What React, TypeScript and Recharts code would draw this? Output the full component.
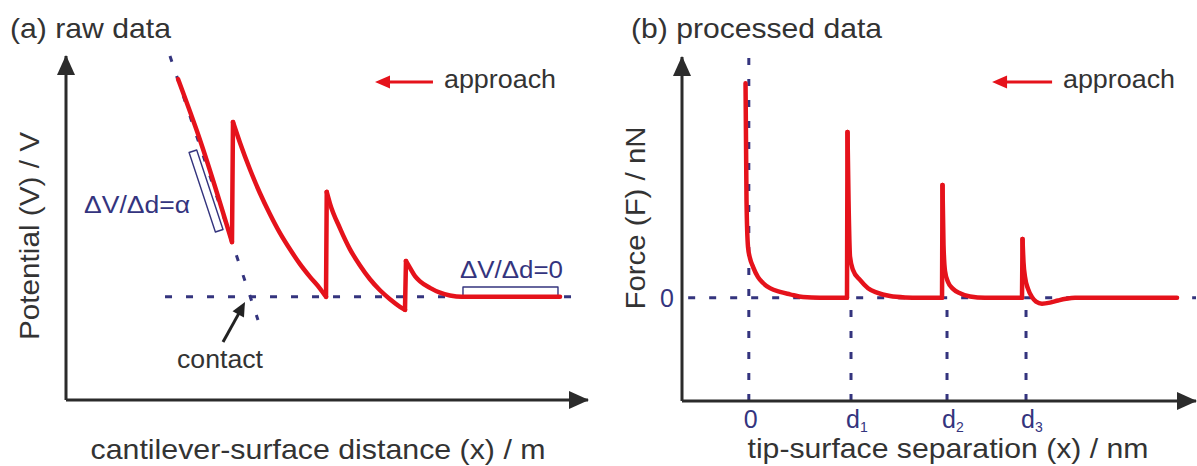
import React from 'react';
import { LineChart, Line, XAxis, YAxis, ReferenceDot } from 'recharts';

const RED = '#e5121b';
const NAVY = '#34347e';
const DARK = '#2b2b2b';
const TXT = '#333333';
const FONT = '"Liberation Sans", Arial, Helvetica, sans-serif';

type P = { x: number; y: number };
const pts = (a: number[][]): P[] => a.map(([x, y]) => ({ x, y }));

// ---------- panel (a): raw data (cantilever-surface distance vs potential) ----------
const rawSlant = pts([[2.146, 9.33], [2.567, 7.56], [3.18, 4.59]]);
const rawJump1 = pts([[3.18, 4.59], [3.199, 8.08]]);
const rawDecay1 = pts([[3.199, 8.08], [3.333, 7.48], [3.525, 6.7], [3.716, 6.01], [3.908, 5.4], [4.1, 4.85], [4.291, 4.38], [4.483, 3.95], [4.674, 3.58], [4.866, 3.24], [4.981, 3.0]]);
const rawJump2 = pts([[4.981, 3.0], [4.995, 6.05]]);
const rawDecay2 = pts([[4.995, 6.05], [5.057, 5.71], [5.249, 4.99], [5.441, 4.38], [5.632, 3.91], [5.824, 3.51], [6.015, 3.19], [6.207, 2.93], [6.398, 2.71], [6.494, 2.62]]);
const rawJump3 = pts([[6.494, 2.62], [6.513, 4.04]]);
const rawDecay3 = pts([[6.513, 4.04], [6.59, 3.84], [6.686, 3.6], [6.782, 3.45], [6.973, 3.26], [7.165, 3.12], [7.356, 3.04], [7.586, 3.0], [9.464, 3.0]]);
const rawBaseline = pts([[1.897, 3.0], [9.75, 3.0]]);
const rawContactLine = pts([[1.992, 10.0], [3.678, 2.326]]);
const rawSlopeBox = pts([[2.358, 7.195], [2.504, 7.267], [3.008, 4.956], [2.862, 4.884], [2.358, 7.195]]);
const rawFlatBox = pts([[7.605, 3.0], [7.605, 3.285], [9.425, 3.285], [9.425, 3.0]]);
const rawApproach = pts([[6.11, 9.244], [7.03, 9.244]]);
const rawApproachTip = { x: 5.92, y: 9.244 };
const contactShaft = pts([[3.008, 1.686], [3.32, 2.54]]);
const contactTip = { x: 3.429, y: 2.849 };

// ---------- panel (b): processed data (tip-surface separation vs force) ----------
const sepTicks = [0, 1.988, 3.856, 5.393];
const sepTickLabels: [string, string][] = [['0', ''], ['d', '1'], ['d', '2'], ['d', '3']];
const forceTicks = [0];
const forceSeg0 = pts([[-0.064, 6.24], [-0.045, 2.84], [-0.016, 1.48], [0.023, 1.15], [0.082, 0.9], [0.179, 0.6], [0.276, 0.43], [0.412, 0.28], [0.607, 0.17], [0.802, 0.1], [1.054, 0.02], [1.385, 0], [1.91, 0]]);
const forceJump1 = pts([[1.91, 0], [1.92, 4.82]]);
const forceDecay1 = pts([[1.92, 4.82], [1.94, 2.84], [1.969, 1.19], [2.027, 0.81], [2.163, 0.52], [2.319, 0.28], [2.494, 0.15], [2.747, 0.05], [3.039, 0.01], [3.331, 0], [3.759, 0]]);
const forceJump2 = pts([[3.759, 0], [3.768, 3.28]]);
const forceDecay2 = pts([[3.768, 3.28], [3.788, 1.53], [3.817, 0.78], [3.875, 0.46], [3.973, 0.26], [4.109, 0.13], [4.304, 0.04], [4.595, 0], [5.315, 0]]);
const forceJump3 = pts([[5.315, 0], [5.325, 1.71]]);
const forceDecay3 = pts([[5.325, 1.71], [5.344, 1.04], [5.374, 0.6], [5.432, 0.26], [5.51, 0.02], [5.588, -0.11], [5.704, -0.17], [5.86, -0.14], [6.016, -0.08], [6.171, -0.03], [6.346, 0], [8.331, 0]]);
const forceZeroLine = pts([[-1.18, 0], [8.7, 0]]);
const forceContactLine = pts([[0, -3], [0, 7]]);
const forceD1Line = pts([[1.988, -3], [1.988, 0]]);
const forceD2Line = pts([[3.856, -3], [3.856, 0]]);
const forceD3Line = pts([[5.393, -3], [5.393, 0]]);
const forceApproach = pts([[4.926, 6.27], [5.9, 6.27]]);
const forceApproachTip = { x: 4.732, y: 6.27 };

const seg = (key: string, data: P[], stroke: string, width: number, opts: any = {}) => (
  <Line
    key={key}
    data={data}
    dataKey="y"
    type={opts.type || 'linear'}
    stroke={stroke}
    strokeWidth={width}
    strokeDasharray={opts.dash}
    strokeLinecap={opts.cap || 'round'}
    strokeLinejoin="round"
    dot={false}
    activeDot={false}
    legendType="none"
    isAnimationActive={false}
  />
);

const headUp = (p: any) => (
  <polygon points={`${p.cx},${p.cy - 1} ${p.cx - 9},${p.cy + 19} ${p.cx + 9},${p.cy + 19}`} fill={DARK} />
);
const headRight = (p: any) => (
  <polygon points={`${p.cx + 1},${p.cy} ${p.cx - 19},${p.cy - 9} ${p.cx - 19},${p.cy + 9}`} fill={DARK} />
);
const headLeftRed = (p: any) => (
  <polygon points={`${p.cx},${p.cy} ${p.cx + 15},${p.cy - 6.5} ${p.cx + 15},${p.cy + 6.5}`} fill={RED} />
);
const headContact = (p: any) => (
  <polygon points="0,0 -14,-6.5 -14,6.5" transform={`translate(${p.cx},${p.cy}) rotate(-61.2)`} fill="#222" />
);

const SepTick = (props: any) => {
  const { x, y, payload } = props;
  const i = sepTicks.indexOf(payload.value);
  const [main, sub] = sepTickLabels[i] || ['', ''];
  return (
    <g>
      <text x={x + 2} y={y + 19} textAnchor="middle" fill={NAVY} fontSize={25} fontFamily={FONT}>{main}</text>
      {sub ? (
        <text x={x + 9} y={y + 23} textAnchor="start" fill={NAVY} fontSize={14} fontFamily={FONT}>{sub}</text>
      ) : null}
    </g>
  );
};

const ForceTick = (props: any) => {
  const { x, y, payload } = props;
  return (
    <text x={x} y={y + 9} textAnchor="end" fill={NAVY} fontSize={25} fontFamily={FONT}>{String(payload.value)}</text>
  );
};

export default function App() {
  return (
    <div style={{ position: 'absolute', left: 0, top: 0, width: 1197, height: 466, background: '#ffffff', overflow: 'hidden' }}>
      <div style={{ position: 'absolute', left: 0, top: 0 }}>
        <LineChart width={598} height={466} margin={{ top: 56, right: 10, bottom: 46, left: 46 }}>
          <XAxis type="number" dataKey="x" domain={[0, 10]} tick={false} tickLine={false} axisLine={{ stroke: DARK, strokeWidth: 3 }} height={20} />
          <YAxis type="number" domain={[0, 10]} tick={false} tickLine={false} axisLine={{ stroke: DARK, strokeWidth: 3 }} width={20} />
          {seg('base', rawBaseline, NAVY, 3, { dash: '7 14', cap: 'butt' })}
          {seg('contactline', rawContactLine, NAVY, 3, { dash: '6 15', cap: 'butt' })}
          {seg('box1', rawSlopeBox, NAVY, 1.4)}
          {seg('box2', rawFlatBox, NAVY, 1.4)}
          {seg('s0', rawSlant, RED, 4.5, { type: 'monotone' })}
          {seg('j1', rawJump1, RED, 4.5)}
          {seg('d1', rawDecay1, RED, 4.5, { type: 'monotone' })}
          {seg('j2', rawJump2, RED, 4.5)}
          {seg('d2', rawDecay2, RED, 4.5, { type: 'monotone' })}
          {seg('j3', rawJump3, RED, 4.5)}
          {seg('d3', rawDecay3, RED, 4.5, { type: 'monotone' })}
          {seg('appr', rawApproach, RED, 3, { cap: 'butt' })}
          {seg('cshaft', contactShaft, '#222', 3, { cap: 'butt' })}
          <ReferenceDot x={rawApproachTip.x} y={rawApproachTip.y} r={0} ifOverflow="visible" shape={headLeftRed} />
          <ReferenceDot x={contactTip.x} y={contactTip.y} r={0} ifOverflow="visible" shape={headContact} />
          <ReferenceDot x={0} y={10} r={0} ifOverflow="visible" shape={headUp} />
          <ReferenceDot x={10} y={0} r={0} ifOverflow="visible" shape={headRight} />
        </LineChart>
      </div>
      <div style={{ position: 'absolute', left: 598, top: 0 }}>
        <LineChart width={599} height={466} margin={{ top: 57, right: 1, bottom: 25, left: 44 }}>
          <XAxis type="number" dataKey="x" domain={[-1.3, 8.7]} ticks={sepTicks} interval={0} tick={<SepTick />} tickLine={false} axisLine={{ stroke: DARK, strokeWidth: 3 }} height={40} />
          <YAxis type="number" domain={[-3, 7]} ticks={forceTicks} interval={0} tick={<ForceTick />} tickLine={false} axisLine={{ stroke: DARK, strokeWidth: 3 }} width={40} />
          {seg('zero', forceZeroLine, NAVY, 3, { dash: '7 14', cap: 'butt' })}
          {seg('v0', forceContactLine, NAVY, 3, { dash: '7 14', cap: 'butt' })}
          {seg('v1', forceD1Line, NAVY, 3, { dash: '7 14', cap: 'butt' })}
          {seg('v2', forceD2Line, NAVY, 3, { dash: '7 14', cap: 'butt' })}
          {seg('v3', forceD3Line, NAVY, 3, { dash: '7 14', cap: 'butt' })}
          {seg('f0', forceSeg0, RED, 4.5, { type: 'monotone' })}
          {seg('fj1', forceJump1, RED, 4.5)}
          {seg('fd1', forceDecay1, RED, 4.5, { type: 'monotone' })}
          {seg('fj2', forceJump2, RED, 4.5)}
          {seg('fd2', forceDecay2, RED, 4.5, { type: 'monotone' })}
          {seg('fj3', forceJump3, RED, 4.5)}
          {seg('fd3', forceDecay3, RED, 4.5, { type: 'monotone' })}
          {seg('fappr', forceApproach, RED, 3, { cap: 'butt' })}
          <ReferenceDot x={forceApproachTip.x} y={forceApproachTip.y} r={0} ifOverflow="visible" shape={headLeftRed} />
          <ReferenceDot x={-1.3} y={7} r={0} ifOverflow="visible" shape={headUp} />
          <ReferenceDot x={8.7} y={-3} r={0} ifOverflow="visible" shape={headRight} />
        </LineChart>
      </div>
      <svg width={1197} height={466} style={{ position: 'absolute', left: 0, top: 0, pointerEvents: 'none' }} fontFamily={FONT}>
        <text x={10} y={38} fontSize={28} fill={TXT} textLength={161} lengthAdjust="spacingAndGlyphs">(a) raw data</text>
        <text x={631} y={38} fontSize={28} fill={TXT} textLength={251} lengthAdjust="spacingAndGlyphs">(b) processed data</text>
        <text x={444} y={88} fontSize={25} fill={TXT} textLength={112} lengthAdjust="spacingAndGlyphs">approach</text>
        <text x={1063} y={88} fontSize={25} fill={TXT} textLength={112} lengthAdjust="spacingAndGlyphs">approach</text>
        <text x={84} y={213} fontSize={23} fill={NAVY} textLength={106} lengthAdjust="spacingAndGlyphs">ΔV/Δd=α</text>
        <text x={460} y={278} fontSize={23} fill={NAVY} textLength={103} lengthAdjust="spacingAndGlyphs">ΔV/Δd=0</text>
        <text x={177} y={368} fontSize={25} fill={TXT} textLength={86} lengthAdjust="spacingAndGlyphs">contact</text>
        <text x={318} y={459} fontSize={28} fill={TXT} textAnchor="middle" textLength={455} lengthAdjust="spacingAndGlyphs">cantilever-surface distance (x) / m</text>
        <text x={948} y={458} fontSize={28} fill={TXT} textAnchor="middle" textLength={401} lengthAdjust="spacingAndGlyphs">tip-surface separation (x) / nm</text>
        <text x={0} y={0} fontSize={28} fill={TXT} textAnchor="middle" textLength={208} lengthAdjust="spacingAndGlyphs" transform="translate(39,236) rotate(-90)">Potential (V) / V</text>
        <text x={0} y={0} fontSize={28} fill={TXT} textAnchor="middle" textLength={183} lengthAdjust="spacingAndGlyphs" transform="translate(645,218) rotate(-90)">Force (F) / nN</text>
      </svg>
    </div>
  );
}
